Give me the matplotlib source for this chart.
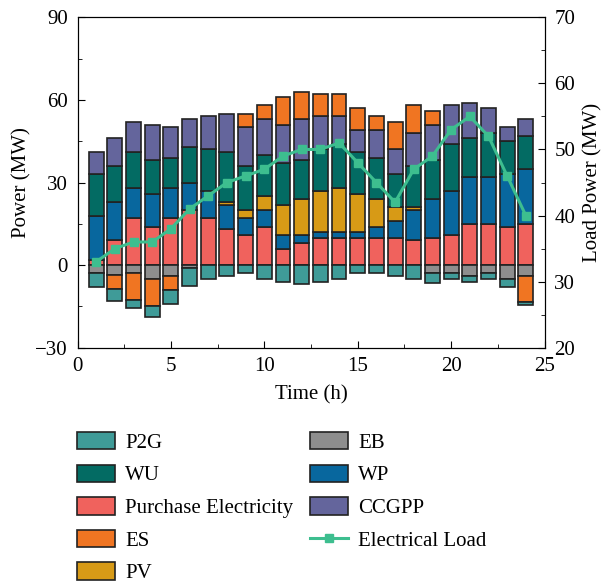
import matplotlib.pyplot as plt
from matplotlib.patches import Patch
from matplotlib.lines import Line2D
from matplotlib.ticker import MultipleLocator
import numpy as np

plt.rcParams['font.family'] = ['Liberation Serif', 'DejaVu Serif']
plt.rcParams['font.size'] = 15

# Données (MW)
heures = np.arange(1, 25)
achat = [2, 9, 17, 14, 17, 20, 17, 13, 11, 14, 6, 8, 10, 10, 10, 10, 10, 9, 10, 11, 15, 15, 14, 15]
wp = [16, 14, 11, 12, 11, 10, 10, 9, 6, 6, 5, 3, 2, 2, 2, 4, 6, 11, 14, 16, 17, 17, 19, 20]
pv = [0, 0, 0, 0, 0, 0, 0, 1, 3, 5, 11, 13, 15, 16, 14, 10, 5, 1, 0, 0, 0, 0, 0, 0]
wu = [15, 13, 13, 12, 11, 13, 15, 18, 16, 15, 15, 14, 15, 16, 15, 15, 12, 15, 14, 17, 14, 16, 12, 12]
ccgpp = [8, 10, 11, 13, 11, 10, 12, 14, 14, 13, 14, 15, 12, 10, 8, 10, 9, 12, 13, 14, 13, 9, 5, 6]
es = [0, -5, -10, -10, -5, 0, 0, 0, 5, 5, 10, 10, 8, 8, 8, 5, 10, 10, 5, 0, 0, 0, 0, -9.5]
eb = [3, 3.5, 2.7, 5, 4, 1, 0, 0, 0, 0, 0, 0, 0, 0, 0, 0, 0, 0, 3, 3, 4, 3, 5, 4]
p2g = [5, 4.5, 3, 4, 5, 6.5, 5, 4, 3, 5, 6, 7, 6, 5, 3, 3, 4, 5, 3.5, 2, 2, 2, 3, 1]
charge = [33, 35, 36, 36, 38, 41, 43, 45, 46, 47, 49, 50, 50, 51, 48, 45, 42, 47, 49, 53, 55, 52, 46, 40]

couleurs = {
    "P2G": "#3f9b98",
    "WU": "#036b63",
    "Purchase Electricity": "#f0625d",
    "ES": "#f07522",
    "PV": "#d79a16",
    "EB": "#8e8e8e",
    "WP": "#08679e",
    "CCGPP": "#64659c",
}
couleur_charge = "#3dbe8f"

fig = plt.figure(figsize=(6.03, 5.84), dpi=100)
ax = fig.add_axes([77.5 / 603, 1 - 347.7 / 584, 467 / 603, 330.4 / 584])

es = np.array(es, dtype=float)
es_pos = np.clip(es, 0, None)
es_neg = np.clip(es, None, 0)

style = dict(width=0.8, edgecolor="#222222", linewidth=1.2, zorder=2)

# Empilement positif
bas = np.zeros(24)
for nom, vals in [("Purchase Electricity", achat), ("WP", wp), ("PV", pv),
                  ("WU", wu), ("CCGPP", ccgpp), ("ES", es_pos)]:
    vals = np.array(vals, dtype=float)
    m = vals > 0
    ax.bar(heures[m], vals[m], bottom=bas[m], color=couleurs[nom], **style)
    bas += vals

# Empilement négatif
bas = np.zeros(24)
for nom, vals in [("EB", -np.array(eb, dtype=float)), ("ES", es_neg),
                  ("P2G", -np.array(p2g, dtype=float))]:
    m = vals < 0
    ax.bar(heures[m], vals[m], bottom=bas[m], color=couleurs[nom], **style)
    bas += vals

ax.set_xlim(0, 25)
ax.set_ylim(-30, 90)
ax.xaxis.set_major_locator(MultipleLocator(5))
ax.xaxis.set_minor_locator(MultipleLocator(2.5))
ax.yaxis.set_major_locator(MultipleLocator(30))
ax.yaxis.set_minor_locator(MultipleLocator(15))
ax.tick_params(which="both", direction="in", top=False, right=False, pad=7)
ax.tick_params(which="major", length=5)
ax.tick_params(which="minor", length=3)
ax.set_xlabel("Time (h)", labelpad=6)
ax.set_ylabel("Power (MW)", labelpad=3)

ax2 = ax.twinx()
ax2.plot(heures, charge, color=couleur_charge, linewidth=2.2, marker="s",
         markersize=6, zorder=5)
ax2.set_ylim(20, 70)
ax2.yaxis.set_major_locator(MultipleLocator(10))
ax2.yaxis.set_minor_locator(MultipleLocator(5))
ax2.tick_params(which="both", direction="in", pad=7)
ax2.tick_params(which="major", length=5)
ax2.tick_params(which="minor", length=3)
ax2.set_ylabel("Load Power (MW)", labelpad=6)

# Légende
noms = ["P2G", "WU", "Purchase Electricity", "ES", "PV", "EB", "WP", "CCGPP"]
poignees = [Patch(facecolor=couleurs[n], edgecolor="#222222", linewidth=1.2, label=n) for n in noms]
poignees.append(Line2D([], [], color=couleur_charge, linewidth=2.2, marker="s",
                       markersize=6, label="Electrical Load"))
fig.legend(handles=poignees, loc="upper left", bbox_to_anchor=(77 / 603, 1 - 432 / 584),
           ncol=2, frameon=False, borderpad=0, borderaxespad=0,
           handlelength=1.83, handleheight=0.91, handletextpad=0.48,
           labelspacing=0.56, columnspacing=0.8)

fig.savefig("out.png", dpi=100)
